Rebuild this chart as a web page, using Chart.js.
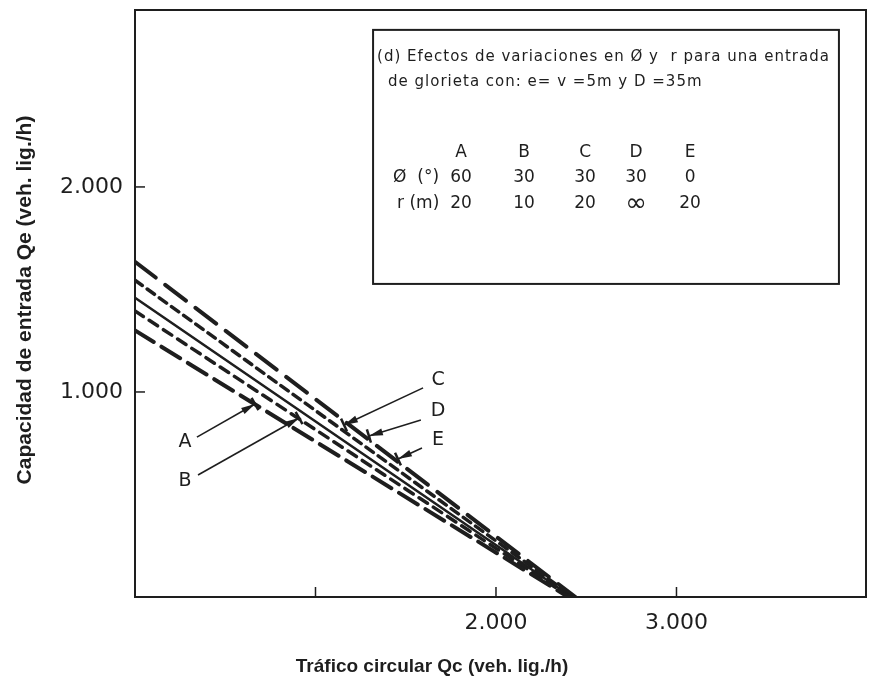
<!DOCTYPE html>
<html>
<head>
<meta charset="utf-8">
<script src="https://cdn.jsdelivr.net/npm/chart.js@4/dist/chart.umd.min.js"></script>
<style>
  html, body { margin: 0; padding: 0; background: #fff; }
  #wrap { width: 880px; height: 683px; }
</style>
</head>
<body>
<div id="wrap"><canvas id="chart" width="880" height="683"></canvas></div>
<script>
// curvas de capacidad: Qe (entrada) frente a Qc (tráfico circular)
const seriesNames = ['A', 'B', 'C', 'D', 'E'];
const qcA = [0, 2400], qeA = [1300, 0];
const qcB = [0, 2410], qeB = [1395, 0];
const qcC = [0, 2420], qeC = [1460, 0];
const qcD = [0, 2430], qeD = [1545, 0];
const qcE = [0, 2440], qeE = [1635, 0];

// tabla del recuadro
const phiDeg = ['60', '30', '30', '30', '0'];
const radiusM = ['20', '10', '20', '∞', '20'];

// marcas de ejes
const xTicks = [1000, 2000, 3000];
const xTickLabels = ['', '2.000', '3.000'];
const yTicks = [1000, 2000];
const yTickLabels = ['1.000', '2.000'];

const ink = '#1e1e1e';

function pts(xs, ys) {
    return xs.map((x, i) => ({ x: x, y: ys[i] }));
}

const lineStyles = {
    A: { dash: [22, 9], width: 4 },
    B: { dash: [10, 7], width: 3.5 },
    C: { dash: [], width: 2.5 },
    D: { dash: [9, 6], width: 3.5 },
    E: { dash: [26, 12], width: 4 }
};

const allData = { A: pts(qcA, qeA), B: pts(qcB, qeB), C: pts(qcC, qeC), D: pts(qcD, qeD), E: pts(qcE, qeE) };

const datasets = seriesNames.map(name => ({
    label: name,
    data: allData[name],
    showLine: true,
    borderColor: ink,
    borderWidth: lineStyles[name].width,
    borderDash: lineStyles[name].dash,
    borderCapStyle: 'round',
    pointRadius: 0,
    fill: false
}));

// etiquetas con flecha (en unidades de datos)
const callouts = [
    { t: 'A', tx: 277, ty: 756, x0: 343, y0: 780, x1: 665, y1: 941 },
    { t: 'B', tx: 277, ty: 566, x0: 349, y0: 595, x1: 909, y1: 873 },
    { t: 'C', tx: 1679, ty: 1059, x0: 1596, y0: 1020, x1: 1158, y1: 839 },
    { t: 'D', tx: 1679, ty: 907, x0: 1584, y0: 863, x1: 1296, y1: 785 },
    { t: 'E', tx: 1679, ty: 766, x0: 1590, y0: 727, x1: 1457, y1: 673 }
];

function arrow(ctx, ax, ay, bx, by) {
    ctx.beginPath();
    ctx.moveTo(ax, ay);
    ctx.lineTo(bx, by);
    ctx.lineWidth = 1.6;
    ctx.stroke();
    const ang = Math.atan2(by - ay, bx - ax);
    const len = 14, half = 3.5;
    const cx = bx - Math.cos(ang) * len, cy = by - Math.sin(ang) * len;
    ctx.beginPath();
    ctx.moveTo(bx, by);
    ctx.lineTo(cx + Math.sin(ang) * half, cy - Math.cos(ang) * half);
    ctx.lineTo(cx - Math.sin(ang) * half, cy + Math.cos(ang) * half);
    ctx.closePath();
    ctx.fill();
    ctx.beginPath();
    ctx.moveTo(bx + Math.sin(ang) * 7, by - Math.cos(ang) * 7);
    ctx.lineTo(bx - Math.sin(ang) * 7, by + Math.cos(ang) * 7);
    ctx.lineWidth = 2.5;
    ctx.stroke();
}

const decor = {
    id: 'decor',
    afterDraw(chart) {
        const ctx = chart.ctx;
        const xs = chart.scales.x, ys = chart.scales.y;
        const a = chart.chartArea;
        ctx.save();
        ctx.strokeStyle = ink;
        ctx.fillStyle = ink;

        // marco
        ctx.lineWidth = 2;
        ctx.strokeRect(a.left, a.top, a.right - a.left, a.bottom - a.top);

        // marcas hacia dentro
        ctx.lineWidth = 1.5;
        xTicks.forEach(v => {
            const px = xs.getPixelForValue(v);
            ctx.beginPath(); ctx.moveTo(px, a.bottom); ctx.lineTo(px, a.bottom - 10); ctx.stroke();
        });
        yTicks.forEach(v => {
            const py = ys.getPixelForValue(v);
            ctx.beginPath(); ctx.moveTo(a.left, py); ctx.lineTo(a.left + 10, py); ctx.stroke();
        });

        // recuadro
        const L = xs.getPixelForValue(1319), R = xs.getPixelForValue(3900);
        const T = ys.getPixelForValue(2766), B = ys.getPixelForValue(1527);
        ctx.lineWidth = 2;
        ctx.strokeRect(L, T, R - L, B - T);
        ctx.font = '15px "DejaVu Sans"';
        ctx.letterSpacing = '1px';
        ctx.textBaseline = 'middle';
        ctx.textAlign = 'left';
        ctx.fillText('(d) Efectos de variaciones en Ø y  r para una entrada', L + 4, T + 27);
        ctx.fillText('de glorieta con: e= v =5m y D =35m', L + 15, T + 52);

        const cols = [460, 523, 584, 635, 689].map(c => L + (c - 372));
        ctx.letterSpacing = '0px';
        ctx.font = '17px "DejaVu Sans"';
        ctx.textAlign = 'center';
        seriesNames.forEach((n, i) => ctx.fillText(n, cols[i], T + 123));
        phiDeg.forEach((v, i) => ctx.fillText(v, cols[i], T + 148));
        radiusM.forEach((v, i) => {
            ctx.font = v === '∞' ? '26px "DejaVu Sans"' : '17px "DejaVu Sans"';
            ctx.fillText(v, cols[i], T + 174);
        });
        ctx.font = '17px "DejaVu Sans"';
        ctx.textAlign = 'left';
        ctx.fillText('Ø  (°)', L + 20, T + 148);
        ctx.fillText('r (m)', L + 24, T + 174);

        // etiquetas A..E
        ctx.font = '19px "DejaVu Sans"';
        ctx.textAlign = 'center';
        callouts.forEach(c => {
            ctx.fillText(c.t, xs.getPixelForValue(c.tx), ys.getPixelForValue(c.ty));
            arrow(ctx, xs.getPixelForValue(c.x0), ys.getPixelForValue(c.y0),
                       xs.getPixelForValue(c.x1), ys.getPixelForValue(c.y1));
        });

        // títulos de ejes
        ctx.font = 'bold 19px "Liberation Sans"';
        ctx.fillText('Tráfico circular Qc (veh. lig./h)', 432, 667);
        ctx.translate(25, 300);
        ctx.rotate(-Math.PI / 2);
        ctx.font = 'bold 21px "Liberation Sans"';
        ctx.fillText('Capacidad de entrada Qe (veh. lig./h)', 0, 0);
        ctx.restore();
    }
};

new Chart(document.getElementById('chart').getContext('2d'), {
    type: 'scatter',
    data: { datasets: datasets },
    plugins: [decor],
    options: {
        responsive: false,
        animation: false,
        layout: { padding: { top: 10, right: 14, left: 0, bottom: 0 } },
        plugins: { legend: { display: false }, tooltip: { enabled: false } },
        scales: {
            x: {
                type: 'linear', min: 0, max: 4050,
                afterFit: s => { s.height = 86; s.paddingLeft = 0; s.paddingRight = 0; },
                afterBuildTicks: s => { s.ticks = xTicks.map(v => ({ value: v })); },
                grid: { display: false, drawTicks: false },
                border: { display: false },
                ticks: {
                    padding: 13, color: ink,
                    font: { family: 'DejaVu Sans', size: 22 },
                    maxRotation: 0, autoSkip: false,
                    callback: v => xTickLabels[xTicks.indexOf(v)]
                }
            },
            y: {
                type: 'linear', min: 0, max: 2863,
                afterFit: s => { s.width = 135; s.paddingTop = 0; s.paddingBottom = 0; },
                afterBuildTicks: s => { s.ticks = yTicks.map(v => ({ value: v })); },
                grid: { display: false, drawTicks: false },
                border: { display: false },
                ticks: {
                    padding: 12, color: ink,
                    font: { family: 'DejaVu Sans', size: 22 },
                    autoSkip: false,
                    callback: v => yTickLabels[yTicks.indexOf(v)]
                }
            }
        }
    }
});
</script>
</body>
</html>
